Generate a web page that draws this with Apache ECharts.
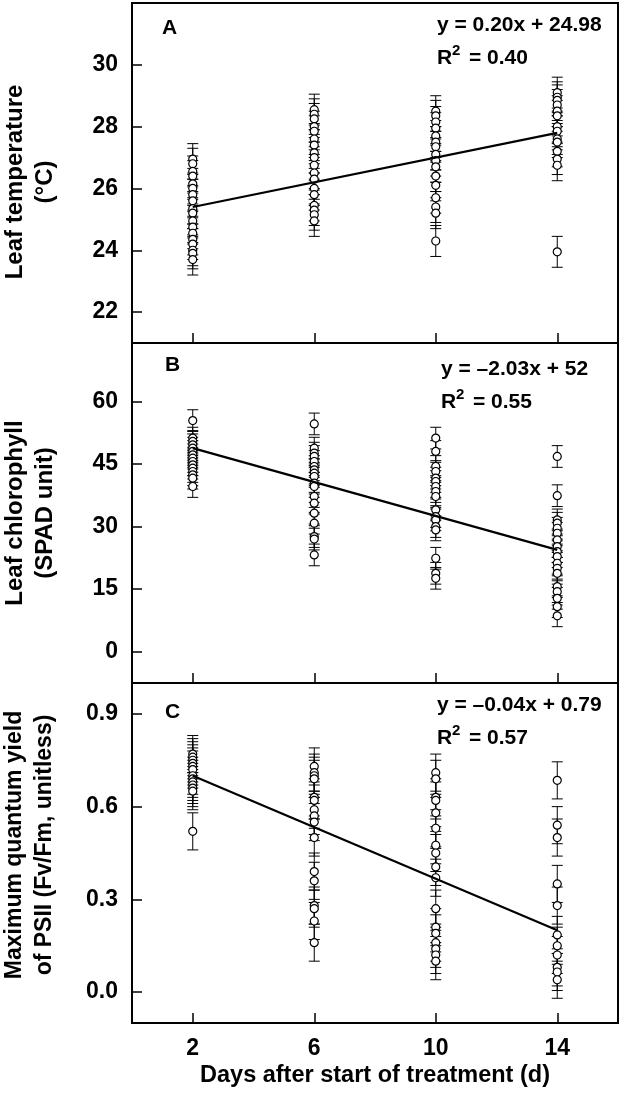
<!DOCTYPE html>
<html>
<head>
<meta charset="utf-8">
<script src="https://cdn.jsdelivr.net/npm/echarts@6/dist/echarts.min.js"></script>
<style>html,body{margin:0;padding:0;background:#fff;}#c{width:622px;height:1100px;}</style>
</head>
<body>
<div id="c"></div>
<script>
// ---- data ----
const days = [2, 6, 10, 14];
const ticksA = [22, 24, 26, 28, 30];
const ticksB = [0, 15, 30, 45, 60];
const ticksC = [0.0, 0.3, 0.6, 0.9];

// Panel A: leaf temperature (°C)
const tempD2 = [26.95, 26.8, 26.55, 26.4, 26.15, 26.0, 25.8, 25.6, 25.35, 25.2, 24.95, 24.75, 24.55, 24.35, 24.2, 24.0, 23.9, 23.7];
const tempD6 = [28.55, 28.4, 28.25, 28.0, 27.85, 27.6, 27.4, 27.15, 27.0, 26.75, 26.5, 26.3, 26.0, 25.8, 25.45, 25.3, 25.15, 24.95];
const tempD10 = [28.5, 28.35, 28.15, 27.95, 27.7, 27.5, 27.35, 27.1, 26.9, 26.7, 26.4, 26.1, 25.7, 25.4, 25.2, 24.3];
const tempD14 = [29.1, 28.95, 28.85, 28.7, 28.5, 28.35, 28.0, 27.85, 27.6, 27.5, 27.2, 26.95, 26.75, 23.95];
const tempErr = 0.5;
const tempFit = [25.4, 27.8];

// Panel B: leaf chlorophyll (SPAD)
const chlD2 = [55.4, 51.2, 50.4, 49.6, 48.8, 48.0, 47.2, 46.4, 45.6, 44.8, 44.0, 43.2, 42.4, 41.6, 39.6];
const chlD6 = [54.6, 48.8, 47.6, 46.8, 45.6, 44.4, 43.6, 42.8, 42.0, 40.4, 39.6, 37.2, 35.6, 33.2, 30.8, 27.6, 27.0, 23.2];
const chlD10 = [51.2, 48.0, 44.4, 43.2, 41.6, 40.8, 39.6, 38.4, 37.2, 34.0, 32.4, 31.6, 30.0, 29.2, 22.4, 18.8, 17.6];
const chlD14 = [46.8, 37.4, 31.6, 30.8, 29.6, 28.4, 26.8, 25.2, 24.0, 22.8, 21.2, 20.0, 18.8, 15.6, 14.4, 12.8, 10.8, 8.6];
const chlErr = 2.6;
const chlFit = [48.8, 24.4];

// Panel C: Fv/Fm
const fvD2 = [0.77, 0.76, 0.75, 0.74, 0.73, 0.72, 0.70, 0.69, 0.68, 0.67, 0.66, 0.65, 0.52];
const fvD6 = [0.73, 0.71, 0.70, 0.69, 0.63, 0.62, 0.59, 0.57, 0.55, 0.50, 0.39, 0.36, 0.28, 0.27, 0.23, 0.16];
const fvD10 = [0.71, 0.69, 0.63, 0.62, 0.58, 0.53, 0.475, 0.45, 0.405, 0.37, 0.27, 0.21, 0.19, 0.16, 0.14, 0.12, 0.10];
const fvD14 = [0.685, 0.54, 0.50, 0.35, 0.28, 0.185, 0.15, 0.12, 0.08, 0.065, 0.04];
const fvErr = 0.06;
const fvFit = [0.70, 0.20];

// ---- build ----
const FONT = '"Liberation Sans", Arial, sans-serif';
function pts(groups) {
  const out = [];
  groups.forEach((g, i) => g.forEach(v => out.push([days[i], v])));
  return out;
}
const panels = [
  { data: pts([tempD2, tempD6, tempD10, tempD14]), err: tempErr, fit: tempFit, min: 21, max: 32, ticks: ticksA, dec: 0,
    name: 'Leaf temperature\n(°C)', top: 3, nfs: 24, pad: [0, 18, 0, 0] },
  { data: pts([chlD2, chlD6, chlD10, chlD14]), err: chlErr, fit: chlFit, min: -7.5, max: 74, ticks: ticksB, dec: 0,
    name: 'Leaf chlorophyll\n(SPAD unit)', top: 343, nfs: 24, pad: [0, 0, 0, 0] },
  { data: pts([fvD2, fvD6, fvD10, fvD14]), err: fvErr, fit: fvFit, min: -0.1, max: 1.0, ticks: ticksC, dec: 1,
    name: 'Maximum quantum yield\nof PSII (Fv/Fm, unitless)', top: 683, nfs: 23, pad: [0, 0, 0, 16] }
];

const grids = [], xAxes = [], yAxes = [], series = [];
panels.forEach((p, i) => {
  grids.push({ left: 132, right: 4, top: p.top, height: 340, show: true, borderColor: '#000', borderWidth: 2,
    backgroundColor: 'transparent', containLabel: false, outerBoundsMode: 'none' });
  xAxes.push({
    type: 'value', gridIndex: i, min: 0, max: 16,
    axisLine: { show: true, onZero: false, lineStyle: { color: '#000', width: 2 } },
    axisTick: { show: true, inside: true, length: 10, customValues: days, lineStyle: { color: '#000', width: 1.5 } },
    axisLabel: { show: i === 2, customValues: days, margin: 14, color: '#000', fontSize: 23, fontWeight: 'bold', fontFamily: FONT },
    splitLine: { show: false },
    name: i === 2 ? 'Days after start of treatment (d)' : '',
    nameLocation: 'middle', nameGap: 41,
    nameTextStyle: { color: '#000', fontSize: 23.5, fontWeight: 'bold', fontFamily: FONT }
  });
  yAxes.push({
    type: 'value', gridIndex: i, min: p.min, max: p.max,
    axisLine: { show: true, onZero: false, lineStyle: { color: '#000', width: 2 } },
    axisTick: { show: true, inside: true, length: 10, customValues: p.ticks, lineStyle: { color: '#000', width: 1.5 } },
    axisLabel: { customValues: p.ticks, margin: 14, color: '#000', fontSize: 23, fontWeight: 'bold', fontFamily: FONT,
      formatter: v => Number(v).toFixed(p.dec) },
    splitLine: { show: false },
    name: p.name, nameLocation: 'middle', nameRotate: 90, nameGap: 72,
    nameTextStyle: { color: '#000', fontSize: p.nfs, fontWeight: 'bold', fontFamily: FONT, lineHeight: 30, align: 'center', padding: p.pad }
  });
  const err = p.err;
  series.push({
    type: 'custom', xAxisIndex: i, yAxisIndex: i, silent: true, z: 2,
    data: p.data, encode: { x: 0, y: 1 },
    renderItem: function (params, api) {
      const x = api.value(0), y = api.value(1);
      const t = api.coord([x, y + err]), b = api.coord([x, y - err]);
      const hw = 5.5;
      const st = { stroke: '#000', lineWidth: 1 };
      return { type: 'group', children: [
        { type: 'line', shape: { x1: t[0], y1: t[1], x2: b[0], y2: b[1] }, style: st },
        { type: 'line', shape: { x1: t[0] - hw, y1: t[1], x2: t[0] + hw, y2: t[1] }, style: st },
        { type: 'line', shape: { x1: b[0] - hw, y1: b[1], x2: b[0] + hw, y2: b[1] }, style: st }
      ] };
    }
  });
  series.push({
    type: 'scatter', xAxisIndex: i, yAxisIndex: i, z: 3, silent: true,
    data: p.data, symbol: 'circle', symbolSize: 8,
    itemStyle: { color: '#fff', borderColor: '#000', borderWidth: 1.2, opacity: 1 }
  });
  series.push({
    type: 'line', xAxisIndex: i, yAxisIndex: i, z: 4, silent: true,
    data: [[days[0], p.fit[0]], [days[3], p.fit[1]]], symbol: 'none',
    lineStyle: { color: '#000', width: 2.2 }
  });
});

function txt(x, y, s, size) {
  return { type: 'text', x: x, y: y, z: 100,
    style: { text: s, fill: '#000', font: 'bold ' + size + 'px ' + FONT, textVerticalAlign: 'middle', verticalAlign: 'middle' } };
}
const graphic = [
  txt(162, 28, 'A', 21), txt(165, 365, 'B', 21), txt(165, 712, 'C', 21),
  txt(437, 25, 'y = 0.20x + 24.98', 21),
  txt(437, 58, 'R', 21), txt(452, 51, '2', 15), txt(469, 58, '= 0.40', 21),
  txt(441, 369, 'y = \u20132.03x + 52', 21),
  txt(441, 402, 'R', 21), txt(456, 395, '2', 15), txt(473, 402, '= 0.55', 21),
  txt(437, 705, 'y = \u20130.04x + 0.79', 21),
  txt(437, 738, 'R', 21), txt(452, 731, '2', 15), txt(469, 738, '= 0.57', 21)
];

const chart = echarts.init(document.getElementById('c'), null, { renderer: 'canvas' });
chart.setOption({
  animation: false,
  backgroundColor: '#fff',
  grid: grids, xAxis: xAxes, yAxis: yAxes, series: series,
  graphic: graphic
});
</script>
</body>
</html>
